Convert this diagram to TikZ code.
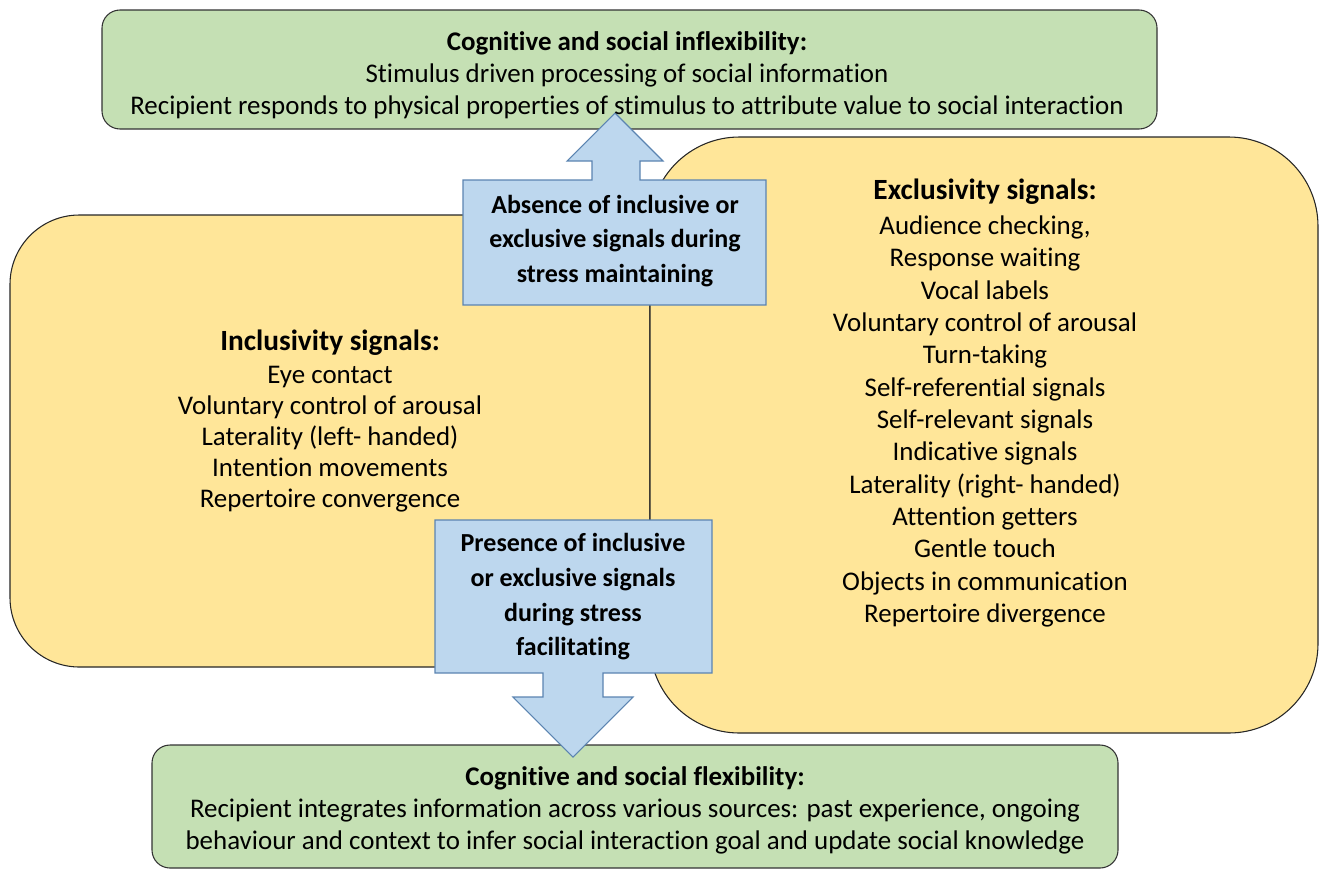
\documentclass[tikz,border=0pt]{standalone}
\usepackage{fontspec}
\setmainfont{Carlito}[Ligatures=NoCommon]
\usepackage{tikz}
\definecolor{flexgreen}{HTML}{C5E0B4}
\definecolor{signalyellow}{HTML}{FFE699}
\definecolor{stressblue}{HTML}{BDD7EE}
\definecolor{stressline}{HTML}{5B84B1}
\tikzset{greenbox/.style={draw=black!80, fill=flexgreen, line width=0.8pt, rounded corners=13.5pt},
	yellowbox/.style={draw=black!85, fill=signalyellow, line width=0.8pt},
	bluebox/.style={draw=stressline, fill=stressblue, line width=0.8pt},
	plaintext/.style={align=center, font=\fontsize{20.2}{24}\selectfont, inner sep=0pt},
	boldtext/.style={align=center, font=\fontsize{19.5}{26}\selectfont\bfseries, inner sep=0pt}}
\newcommand{\signalhead}[1]{{\fontsize{22}{24}\selectfont\bfseries #1}}

\begin{document}
\begin{tikzpicture}[x=0.75pt, y=-0.75pt]
		\useasboundingbox (0,0) rectangle (1320,872);
		% green boxes
		\draw[greenbox] (102,10) rectangle (1157,129);
		\draw[greenbox] (152,745) rectangle (1118,868);
		% yellow boxes
		\draw[yellowbox, rounded corners=52pt] (10,215) rectangle (650,667);
		\draw[yellowbox, rounded corners=67pt] (650,137) rectangle (1318,733);
		% blue callouts
		\draw[bluebox] (463,180) -- (592,180) -- (592,161) -- (567,161) -- (615,113) -- (663,161)
			-- (640,161) -- (640,180) -- (766,180) -- (766,305) -- (463,305) -- cycle;
		\draw[bluebox] (435,520) -- (712,520) -- (712,673) -- (603,673) -- (603,697) -- (633,697)
			-- (573,757) -- (513,697) -- (543,697) -- (543,673) -- (435,673) -- cycle;
		% texts
		\node[plaintext] (inflex) at (627,75) {\textbf{Cognitive and social inflexibility:}\\
			Stimulus driven processing of social information\\
			Recipient responds to physical properties of stimulus to attribute value to social interaction};
		\node[plaintext] (flex) at (635,810) {\textbf{Cognitive and social flexibility:}\\
			Recipient integrates information across various sources: past experience, ongoing\\
			behaviour and context to infer social interaction goal and update social knowledge};
		\node[plaintext, font=\fontsize{20.2}{23.25}\selectfont] (inclusive) at (330,421) {\signalhead{Inclusivity signals:}\\[2pt]
			Eye contact\\
			Voluntary control of arousal\\
			Laterality (left- handed)\\
			Intention movements\\
			Repertoire convergence};
		\node[plaintext, font=\fontsize{20.2}{24.25}\selectfont] (exclusive) at (985,403) {\signalhead{Exclusivity signals:}\\[2pt]
			Audience checking,\\
			Response waiting\\
			Vocal labels\\
			Voluntary control of arousal\\
			Turn-taking\\
			Self-referential signals\\
			Self-relevant signals\\
			Indicative signals\\
			Laterality (right- handed)\\
			Attention getters\\
			Gentle touch\\
			Objects in communication\\
			Repertoire divergence};
		\node[boldtext] (absence) at (615,241) {Absence of inclusive or\\
			exclusive signals during\\
			stress maintaining};
		\node[boldtext] (presence) at (573,597) {Presence of inclusive\\
			or exclusive signals\\
			during stress\\
			facilitating};
\end{tikzpicture}
\end{document}
